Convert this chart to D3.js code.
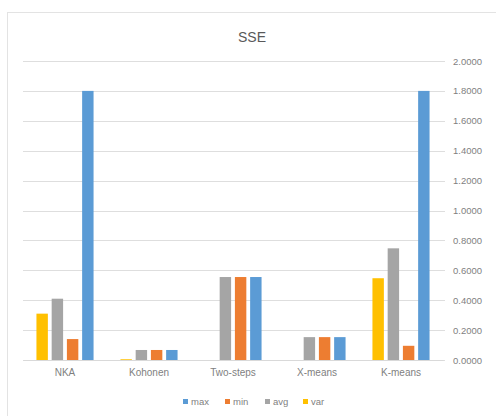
<!DOCTYPE html>
<html>
<head>
<meta charset="utf-8">
<script src="https://cdn.jsdelivr.net/npm/d3@7"></script>
<style>
  body { margin: 0; background: #fff; }
  text { font-family: "Liberation Sans", "DejaVu Sans", sans-serif; fill: #7f7f7f; }
</style>
</head>
<body>
<script>
// data
var categories = ["NKA", "Kohonen", "Two-steps", "X-means", "K-means"];
var seriesNames = ["var", "avg", "min", "max"];          // left to right inside a group
var legendOrder = ["max", "min", "avg", "var"];
var varValues = [0.31, 0.005, 0, 0, 0.547];
var avgValues = [0.41, 0.067, 0.555, 0.153, 0.747];
var minValues = [0.14, 0.067, 0.555, 0.153, 0.095];
var maxValues = [1.80, 0.067, 0.555, 0.153, 1.80];
var yTicks = [0, 0.2, 0.4, 0.6, 0.8, 1.0, 1.2, 1.4, 1.6, 1.8, 2.0];

var colors = { max: "#5b9bd5", min: "#ed7d31", avg: "#a5a5a5", "var": "#ffc000" };
var valuesBySeries = { "var": varValues, avg: avgValues, min: minValues, max: maxValues };

var width = 496, height = 416;
var plotLeft = 23, plotRight = 443, plotTop = 61, plotBottom = 360;

var svg = d3.select("body").append("svg")
    .attr("width", width)
    .attr("height", height);

// chart border
svg.append("rect")
    .attr("x", 7.5).attr("y", 12.5)
    .attr("width", 500).attr("height", 420)
    .attr("fill", "none")
    .attr("stroke", "#e3e3e3");

var x = d3.scaleBand().domain(categories).range([plotLeft, plotRight]).paddingInner(0.32).paddingOuter(0.16);
var x1 = d3.scaleBand().domain(seriesNames).range([0, x.bandwidth()]).paddingInner(0.25);
var y = d3.scaleLinear().domain([0, 2]).range([plotBottom, plotTop]);

// gridlines
svg.append("g").selectAll("line")
    .data(yTicks)
    .enter().append("line")
    .attr("x1", plotLeft).attr("x2", plotRight + 2)
    .attr("y1", function (d) { return Math.round(y(d)) + 0.5; })
    .attr("y2", function (d) { return Math.round(y(d)) + 0.5; })
    .attr("stroke", "#dedede");

// right axis labels
var yAxis = d3.axisRight(y).tickValues(yTicks).tickSize(0).tickPadding(0)
    .tickFormat(d3.format(".4f"));
var ya = svg.append("g").attr("transform", "translate(453,0)").call(yAxis);
ya.select(".domain").remove();
ya.selectAll("text").attr("font-size", "9.5px").attr("fill", "#7f7f7f")
    .style("font-family", "'Liberation Sans', sans-serif");

// bars
var groups = svg.append("g").selectAll("g")
    .data(categories)
    .enter().append("g")
    .attr("transform", function (d) { return "translate(" + x(d) + ",0)"; });

groups.selectAll("rect")
    .data(function (c, i) {
        return seriesNames.map(function (s) { return { s: s, v: valuesBySeries[s][i] }; });
    })
    .enter().append("rect")
    .attr("x", function (d) { return x1(d.s); })
    .attr("width", x1.bandwidth())
    .attr("y", function (d) { return y(d.v); })
    .attr("height", function (d) { return plotBottom - y(d.v); })
    .attr("fill", function (d) { return colors[d.s]; });

// category axis
var xAxis = d3.axisBottom(x).tickSize(0).tickPadding(9);
var xa = svg.append("g").attr("transform", "translate(0," + plotBottom + ")").call(xAxis);
xa.select(".domain").attr("stroke", "#d9d9d9");
xa.selectAll("text").attr("font-size", "10px").attr("fill", "#7f7f7f")
    .style("font-family", "'Liberation Sans', sans-serif");

// title
svg.append("text")
    .attr("x", 252).attr("y", 42)
    .attr("text-anchor", "middle")
    .attr("font-size", "14px")
    .style("fill", "#595959")
    .text("SSE");

// legend
var legendX = [183, 225, 265, 303];
var legend = svg.append("g").selectAll("g")
    .data(legendOrder)
    .enter().append("g")
    .attr("transform", function (d, i) { return "translate(" + legendX[i] + ",399)"; });
legend.append("rect")
    .attr("width", 5).attr("height", 5)
    .attr("fill", function (d) { return colors[d]; });
legend.append("text")
    .attr("x", 8).attr("y", 6)
    .attr("font-size", "9.5px")
    .text(function (d) { return d; });
</script>
</body>
</html>
